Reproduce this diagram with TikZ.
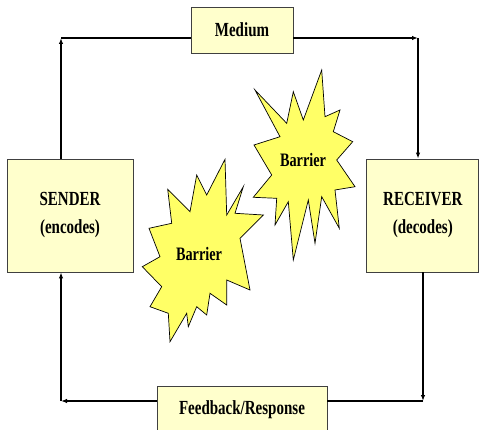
\documentclass[tikz,border=0pt]{standalone}
\usepackage{fontspec}
\setmainfont{Liberation Serif}[FakeStretch=0.75]
\usepackage{tikz}
\definecolor{boxfill}{HTML}{FFFFCC}
\definecolor{burstfill}{HTML}{FFFF66}
\usetikzlibrary{positioning,arrows.meta}

\begin{document}
\begin{tikzpicture}[
  x=1pt, y=-1pt,
  box/.style={draw=black!75, line width=0.8pt, fill=boxfill, align=center,
              font=\bfseries\fontsize{20}{28}\selectfont, inner sep=0pt},
  burst/.style={draw=black, fill=burstfill, line width=0.7pt, line join=miter},
  word/.style={font=\bfseries\fontsize{19}{20}\selectfont},
  arr/.style={-{Latex[length=6pt,width=4.5pt]}, line width=1.8pt},
  lnk/.style={line width=1.8pt},
]
  \useasboundingbox (0,0) rectangle (479,430);

  % SENDER and RECEIVER
  \node[box, minimum width=126pt, minimum height=113pt] (sender) at (70,215.5)
    {SENDER\\(encodes)};
  \node[box, minimum width=112pt, minimum height=113pt, right=233pt of sender] (receiver)
    {RECEIVER\\(decodes)};

  % channel boxes
  \node[box, minimum width=102pt, minimum height=46pt] (medium) at (242,30) {Medium};
  \node[box, minimum width=170pt, minimum height=48pt] (feedback) at (242,410)
    {Feedback/Response};

  % corners of the loop
  \coordinate (tl) at (61,38);
  \coordinate (tr) at (418,38);
  \coordinate (br) at (423,401);
  \coordinate (bl) at (61,401);

  % Arrows
  \draw[arr] (tl |- sender.north) -- (tl);
  \draw[lnk] (tl) -- (medium.west |- tl);
  \draw[arr] (medium.east |- tr) -- (tr);
  \draw[arr] (tr) -- (tr |- receiver.north);
  \draw[arr] (br |- receiver.south) -- (br);
  \draw[lnk] (br) -- (feedback.east |- br);
  \draw[arr] (feedback.west |- bl) -- (bl);
  \draw[arr] (bl) -- (tl |- sender.south);

  % upper barrier
  \filldraw[burst] (255,90) -- (286.7,123.3) -- (293.3,91.7) -- (303.3,120)
    -- (321.7,70) -- (325,116.7) -- (340,110) -- (333.3,131.7) -- (352.7,141.7)
    -- (336.7,160) -- (355,186.7) -- (335,190) -- (339.3,228.3) -- (321.7,196.7)
    -- (315,243.3) -- (308.3,200) -- (293.3,260) -- (288.3,201.7) -- (275,225)
    -- (276.7,198.3) -- (253.3,197.3) -- (271.7,175) -- (254,145) -- (280,136.7)
    -- cycle;
  \node[word] (barrier-up) at (303,160) {Barrier};

  % lower barrier
  \filldraw[burst] (225,159.3) -- (226.7,215) -- (243.3,186.7) -- (235,213.3)
    -- (263.3,215) -- (240,238.3) -- (250,290) -- (226.7,280) -- (226.7,305)
    -- (210,293.3) -- (206.7,315) -- (196.7,306.7) -- (188.3,326.7) -- (186.7,313.3)
    -- (170,341.7) -- (168.3,313.3) -- (150,306.7) -- (161.7,286.7) -- (142.3,266.7)
    -- (160,256.7) -- (149,228.3) -- (171.7,223.3) -- (167.7,189.3) -- (190,211.7)
    -- (196.7,175) -- (206.7,195) -- cycle;
  \node[word] (barrier-low) at (199,254) {Barrier};
\end{tikzpicture}
\end{document}
